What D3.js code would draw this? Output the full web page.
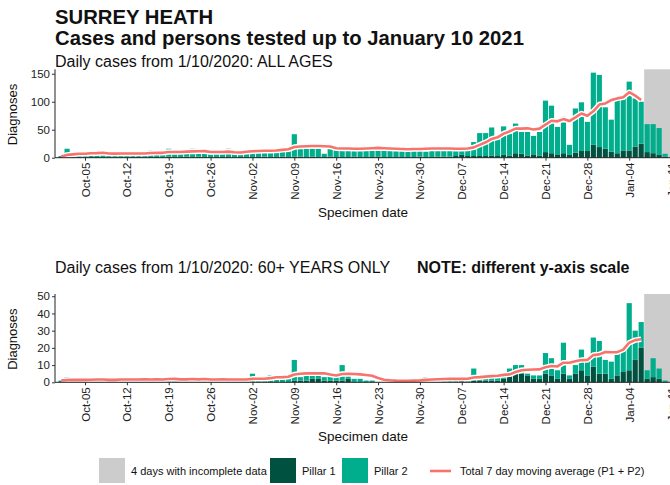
<!DOCTYPE html>
<html>
<head>
<meta charset="utf-8">
<script src="https://cdn.jsdelivr.net/npm/d3@7"></script>
<style>
  html, body { margin: 0; padding: 0; background: #fff; }
  svg { display: block; font-family: "Liberation Sans", Arial, sans-serif; }
</style>
</head>
<body>
<svg id="chart" width="670" height="485"></svg>
<script>
// ---- Data: daily cases from 1 Oct 2020 to 10 Jan 2021 ----
const firstDay = "2020-10-01";
const incompleteFrom = "2021-01-07";
const incompleteDays = 4;

const tickDates = ["2020-10-05","2020-10-12","2020-10-19","2020-10-26","2020-11-02","2020-11-09",
  "2020-11-16","2020-11-23","2020-11-30","2020-12-07","2020-12-14","2020-12-21","2020-12-28",
  "2021-01-04","2021-01-11"];

// All ages
const allPillar1 = [0,1,0,1,0,1,1,0,1,0,1,0,1,1,0,1,1,0,2,1,1,2,1,2,1,0,1,1,1,0,1,
  1,1,1,2,1,1,2,1,2,2,1,2,1,1,2,1,1,1,2,1,1,1,2,1,1,1,1,1,1,2,
  1,1,2,2,2,3,5,3,3,3,3,4,3,5,4,8,7,4,6,4,10,8,6,8,5,9,12,12,23,19,16,11,8,13,13,20,25,10,8,5,2];
const allPillar2 = [3,15,7,5,6,8,9,8,6,5,7,6,8,9,7,12,8,7,14,9,8,10,15,9,7,6,8,9,15,8,7,
  9,13,11,10,13,12,14,15,40,14,15,14,15,6,14,12,15,12,11,12,12,13,12,12,12,11,11,12,18,12,
  10,13,11,11,10,9,8,10,25,41,41,50,30,51,39,53,39,42,33,42,92,85,49,65,18,79,87,52,129,129,74,57,100,97,123,86,75,50,52,48,5];
const allAverage = [2,5,6,7,7,8,8.1,8.9,7.6,7.3,7.6,7.6,7.6,7.6,7.4,8.3,8.9,8.7,10.1,10.3,10.1,10.9,11.3,11.6,11.7,10.3,10.1,10.3,10.9,9.7,9.3,
  10.5,11.5,12,12.5,12.5,13,14,15,19,20,20.5,21,21,20.5,20,17,16.5,16.5,16,16,16.5,17,17.5,17,16.5,16,15.5,15,15.5,15.5,
  16,16.5,16.5,16.5,16.5,16,16,16.5,18.5,23,27.5,33.5,36.5,43,47,52,52,52.5,50.5,52,59,66,65,69,65.5,72,79,75,83,95,97,103,106,108,117,111,103];

// 60+ years only
const oldPillar1 = [0,0,0,0,0,0,0,0,0,0,0,0,0,0,0,0,0,0,0,0,0,0,0,0,0,0,0,0,0,0,0,
  0,0,0,0,0,0,0,0,1,1,1,2,2,1,1,1,1,2,0,0,0,0,0,0,0,0,0,0,0,0,
  0,0,0,0,0,0,1,0,1,1,1,1,1,2,4,5,5,4,2,2,5,4,2,5,2,5,7,4,9,5,5,2,4,6,7,13,20,2,3,2,0];
const oldPillar2 = [1,3,1,1,1,1,3,1,2,1,2,1,1,3,2,1,2,1,3,2,1,2,2,1,2,1,2,2,1,2,1,
  2,5,2,2,4,4,2,2,12,2,3,2,2,2,3,2,9,2,2,2,1,1,0,0,1,0,0,1,1,1,
  3,1,2,1,2,1,1,1,7,1,2,2,2,2,4,5,5,1,2,2,12,10,5,18,2,5,12,10,17,19,8,10,13,13,39,17,15,5,11,6,1];
const oldAverage = [1,1.3,1.4,1.4,1.4,1.5,1.6,1.6,1.4,1.4,1.6,1.6,1.6,1.6,1.7,1.6,1.7,1.6,1.9,2,1.7,1.7,1.9,1.7,1.9,1.6,1.6,1.7,1.6,1.6,1.6,
  1.6,2,2.1,2.1,2.4,2.9,3,3.2,4.5,5,5.2,5.2,5.3,5.2,4.5,4,4.8,5,4.8,4.6,4.2,3.8,2.5,1.5,1.2,1,0.9,0.9,1,1.1,
  1.4,1.6,1.8,1.9,2,2,2,2.1,2.8,3,3.3,3.6,3.8,4.3,4.6,6,7,7.3,7.4,7.5,8.7,9.5,9.2,11.4,11.4,12.2,12.9,13,15.8,16.2,17.6,17.5,17.5,19,23,24.5,25];

const allTicks = [0, 50, 100, 150];
const oldTicks = [0, 10, 20, 30, 40, 50];

const legendItems = [
  { label: "4 days with incomplete data", kind: "box", color: "#cccccc" },
  { label: "Pillar 1", kind: "box", color: "#00513f" },
  { label: "Pillar 2", kind: "box", color: "#00ae8d" },
  { label: "Total 7 day moving average (P1 + P2)", kind: "line", color: "#f8736c" }
];

// ---- Drawing ----
const parse = d3.utcParse("%Y-%m-%d");
const fmt = d3.utcFormat("%b-%d");
const day0 = parse(firstDay);
const dayAt = i => d3.utcDay.offset(day0, i);

const svg = d3.select("#chart");
const colP1 = legendItems[1].color, colP2 = legendItems[2].color, colAvg = legendItems[3].color;

const x = d3.scaleUtc()
  .domain([day0, dayAt(101)])
  .range([61.1, 665.1]);
const dayW = x(dayAt(1)) - x(dayAt(0));
const plotLeft = 55;

svg.append("text").attr("x", 55).attr("y", 23.5)
  .attr("font-size", 20.3).attr("font-weight", "bold").attr("fill", "#111")
  .text("SURREY HEATH");
svg.append("text").attr("x", 55).attr("y", 44.5)
  .attr("font-size", 20.3).attr("font-weight", "bold").attr("fill", "#111")
  .text("Cases and persons tested up to January 10 2021");

function drawPanel(o) {
  const g = svg.append("g");
  const y = d3.scaleLinear().domain([0, o.yTopValue]).range([o.base, o.top]);

  // incomplete-data shading
  const incStart = d3.utcHour.offset(parse(incompleteFrom), -12);
  g.append("rect")
    .attr("x", x(incStart)).attr("y", o.top)
    .attr("width", x(d3.utcDay.offset(incStart, incompleteDays + 1)) - x(incStart))
    .attr("height", o.base - o.top)
    .attr("fill", legendItems[0].color);

  const rows = o.p1.map((v, i) => ({ date: dayAt(i), p1: v, p2: o.p2[i] }));
  const stack = d3.stack().keys(["p1", "p2"])(rows);
  const colors = { p1: colP1, p2: colP2 };
  g.selectAll("g.layer").data(stack).join("g")
    .attr("fill", s => colors[s.key])
    .selectAll("rect").data(s => s).join("rect")
    .attr("x", d => x(d.data.date) - dayW / 2 + 0.4)
    .attr("width", dayW - 0.8)
    .attr("y", d => y(d[1]))
    .attr("height", d => Math.max(0, y(d[0]) - y(d[1])));

  // moving average with a white halo
  const line = d3.line().x((d, i) => x(dayAt(i))).y(d => y(d));
  g.append("path").datum(o.avg).attr("d", line)
    .attr("fill", "none").attr("stroke", "#fff").attr("stroke-width", 5.5)
    .attr("stroke-linejoin", "round");
  g.append("path").datum(o.avg).attr("d", line)
    .attr("fill", "none").attr("stroke", colAvg).attr("stroke-width", 2.6)
    .attr("stroke-linejoin", "round");

  // y axis
  const ya = g.append("g").attr("transform", `translate(${plotLeft},0)`)
    .call(d3.axisLeft(y).tickValues(o.ticks).tickSize(3).tickPadding(2).tickFormat(d3.format("d")));
  ya.select(".domain").attr("d", `M0,${o.top}V${o.base}`).attr("stroke", "#222");
  ya.selectAll("line").attr("stroke", "#333");
  ya.selectAll("text").attr("font-size", 11.5).attr("fill", "#222")
    .attr("font-family", "Liberation Sans, Arial, sans-serif");

  // x axis
  const xa = g.append("g").attr("transform", `translate(0,${o.base})`)
    .call(d3.axisBottom(x).tickValues(tickDates.map(parse)).tickSize(3).tickFormat(fmt));
  xa.select(".domain").attr("d", `M${plotLeft},0H680`).attr("stroke", "#222");
  xa.selectAll("line").attr("stroke", "#333");
  xa.selectAll("text")
    .attr("font-size", 11.5).attr("fill", "#222")
    .attr("font-family", "Liberation Sans, Arial, sans-serif")
    .attr("text-anchor", "end")
    .attr("transform", "rotate(-90)")
    .attr("x", -5).attr("y", 0).attr("dy", "0.35em");

  svg.append("text")
    .attr("transform", `translate(17,${(o.base + o.top) / 2 + 1}) rotate(-90)`)
    .attr("text-anchor", "middle").attr("font-size", 13).attr("fill", "#111")
    .text("Diagnoses");
  svg.append("text").attr("x", 363).attr("y", o.xLabelY)
    .attr("text-anchor", "middle").attr("font-size", 13.5).attr("fill", "#111")
    .text("Specimen date");
}

svg.append("text").attr("x", 55).attr("y", 67).attr("font-size", 16).attr("fill", "#111")
  .text("Daily cases from 1/10/2020: ALL AGES");
drawPanel({ base: 157.7, top: 69.3, yTopValue: 158, ticks: allTicks,
  p1: allPillar1, p2: allPillar2, avg: allAverage, xLabelY: 217 });

const sub2 = svg.append("text").attr("x", 55).attr("y", 273).attr("font-size", 16).attr("fill", "#111");
sub2.append("tspan").text("Daily cases from 1/10/2020: 60+ YEARS ONLY");
sub2.append("tspan").attr("x", 417).attr("font-weight", "bold").text("NOTE: different y-axis scale");
drawPanel({ base: 382.3, top: 294, yTopValue: 51.3, ticks: oldTicks,
  p1: oldPillar1, p2: oldPillar2, avg: oldAverage, xLabelY: 441 });

// legend
const legendX = [99, 270, 342, 430];
const lg = svg.append("g");
legendItems.forEach((it, i) => {
  const gx = legendX[i];
  if (it.kind === "box") {
    lg.append("rect").attr("x", gx).attr("y", 458).attr("width", 26).attr("height", 25).attr("fill", it.color);
    lg.append("text").attr("x", gx + 32).attr("y", 474.5).attr("font-size", 11).attr("fill", "#111").text(it.label);
  } else {
    lg.append("line").attr("x1", gx).attr("x2", gx + 21).attr("y1", 471).attr("y2", 471)
      .attr("stroke", it.color).attr("stroke-width", 2.6);
    lg.append("text").attr("x", gx + 30).attr("y", 474.5).attr("font-size", 11).attr("fill", "#111").text(it.label);
  }
});
</script>
</body>
</html>
